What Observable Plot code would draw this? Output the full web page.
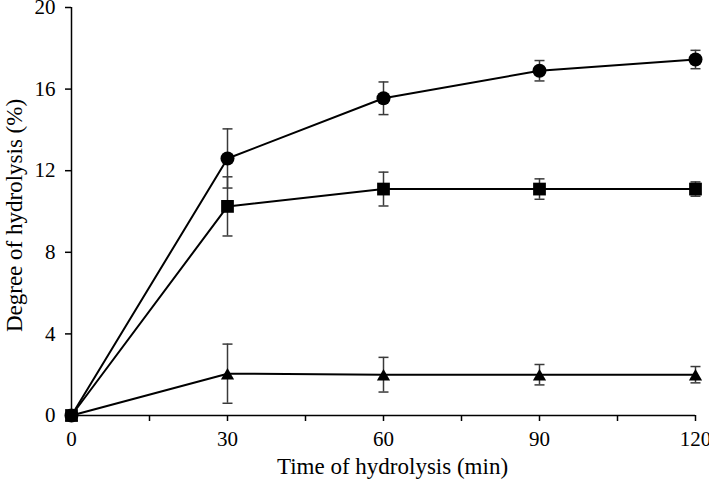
<!DOCTYPE html>
<html><head><meta charset="utf-8">
<script src="https://cdn.jsdelivr.net/npm/d3@7"></script>
<script src="https://cdn.jsdelivr.net/npm/@observablehq/plot@0.6"></script>
<style>html,body{margin:0;padding:0;background:#fff}</style>
</head><body><div id="chart"></div>
<script>
// ---- data ----
const times = [0, 30, 60, 90, 120];
const circleMean = [0, 12.6, 15.55, 16.9, 17.45];
const circleErr  = [0, 1.45, 0.8, 0.5, 0.45];
const squareMean = [0, 10.25, 11.1, 11.1, 11.1];
const squareErr  = [0, 1.45, 0.83, 0.5, 0.35];
const triangleMean = [0, 2.05, 2.0, 2.0, 2.0];
const triangleErr  = [0, 1.45, 0.85, 0.5, 0.4];
const xTicks = [0, 15, 30, 45, 60, 75, 90, 105, 120];
const xTickLabels = [0, 30, 60, 90, 120];
const yTicks = [0, 4, 8, 12, 16, 20];
const xTitle = "Time of hydrolysis (min)";
const yTitle = "Degree of hydrolysis (%)";

const series = [
  {name: "triangle", mean: triangleMean, err: triangleErr},
  {name: "circle", mean: circleMean, err: circleErr},
  {name: "square", mean: squareMean, err: squareErr}
];
const rows = series.flatMap(s => times.map((t, i) => ({
  series: s.name, t, v: s.mean[i], e: s.err[i],
  lo: s.mean[i] - s.err[i], hi: s.mean[i] + s.err[i]
})));
const errRows = rows.filter(d => d.e > 0);
const capSymbol = {draw(ctx) { ctx.moveTo(-5, 0); ctx.lineTo(5, 0); }};
const bySeries = n => rows.filter(d => d.series === n);

const chart = Plot.plot({
  width: 709, height: 486,
  marginLeft: 71, marginRight: 14, marginTop: 7, marginBottom: 71,
  style: {fontFamily: "'Liberation Serif', 'Times New Roman', serif", fontSize: "21px", color: "#000", background: "#fff", overflow: "visible"},
  x: {domain: [0, 120]},
  y: {domain: [0, 20]},
  marks: [
    Plot.axisX(xTicks, {tickSize: 6, tickPadding: 10, strokeWidth: 1.5, label: null,
      tickFormat: d => xTickLabels.includes(d) ? String(d) : ""}),
    Plot.axisY(yTicks, {tickSize: 6, tickPadding: 10, strokeWidth: 1.5, label: null}),
    Plot.ruleY([0], {stroke: "#000", strokeWidth: 1.5}),
    Plot.ruleX([0], {stroke: "#000", strokeWidth: 1.5}),
    Plot.ruleX(errRows, {x: "t", y1: "lo", y2: "hi", stroke: "#3a3a3a", strokeWidth: 1.5}),
    Plot.dot(errRows, {x: "t", y: "lo", symbol: capSymbol, stroke: "#3a3a3a", strokeWidth: 1.5, fill: "none", r: 3}),
    Plot.dot(errRows, {x: "t", y: "hi", symbol: capSymbol, stroke: "#3a3a3a", strokeWidth: 1.5, fill: "none", r: 3}),
    Plot.line(rows, {x: "t", y: "v", z: "series", stroke: "#000", strokeWidth: 2}),
    Plot.dot(bySeries("triangle"), {x: "t", y: "v", symbol: "triangle", r: 4.9, dy: 2, fill: "#000", stroke: "none"}),
    Plot.dot(bySeries("circle"), {x: "t", y: "v", symbol: "circle", r: 7, fill: "#000", stroke: "none"}),
    Plot.dot(bySeries("square"), {x: "t", y: "v", symbol: "square", r: 7.2, fill: "#000", stroke: "none"}),
    Plot.text([xTitle], {frameAnchor: "bottom", textAnchor: "middle", lineAnchor: "middle", dy: 51, dx: 9, fontSize: 23, fill: "#000"}),
    Plot.text([yTitle], {frameAnchor: "left", textAnchor: "middle", lineAnchor: "middle", rotate: -90, dx: -57, dy: 4, fontSize: 23, fill: "#000"})
  ]
});
document.getElementById("chart").appendChild(chart);
</script>
</body></html>
